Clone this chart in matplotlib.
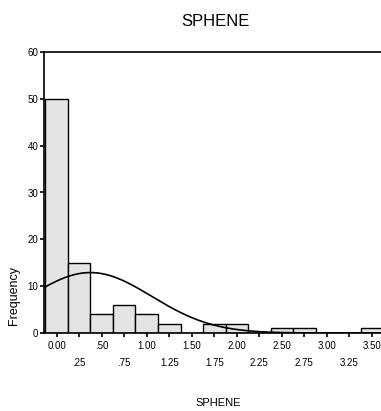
import numpy as np
import matplotlib
matplotlib.use("Agg")
import matplotlib.pyplot as plt

plt.rcParams['font.family'] = ['Liberation Sans Narrow', 'Liberation Sans', 'DejaVu Sans']

# bin centres (width .25) and counts
bin_centers = [0.00, 0.25, 0.50, 0.75, 1.00, 1.25, 1.50, 1.75, 2.00,
               2.25, 2.50, 2.75, 3.00, 3.25, 3.50]
counts = [50, 15, 4, 6, 4, 2, 0, 2, 2, 0, 1, 1, 0, 0, 1]
bin_width = 0.25

row1_ticks = [0.00, 0.50, 1.00, 1.50, 2.00, 2.50, 3.00, 3.50]
row1_labels = ["0.00", ".50", "1.00", "1.50", "2.00", "2.50", "3.00", "3.50"]
row2_ticks = [0.25, 0.75, 1.25, 1.75, 2.25, 2.75, 3.25]
row2_labels = [".25", ".75", "1.25", "1.75", "2.25", "2.75", "3.25"]

fig = plt.figure(figsize=(3.81, 4.11), dpi=100)
ax = fig.add_axes([44/381, 1 - 333/411, 1 - 44/381, (333 - 52)/411])

ax.bar(bin_centers, counts, width=bin_width, color="#e4e4e4",
       edgecolor="black", linewidth=1.0)

# normal curve fitted to the binned data
c = np.array(bin_centers)
n = np.array(counts)
N = n.sum()
mu = (c * n).sum() / N
sd = np.sqrt(((c - mu) ** 2 * n).sum() / (N - 1))
xs = np.linspace(-0.14, 3.6, 300)
ys = N * bin_width / (sd * np.sqrt(2 * np.pi)) * np.exp(-(xs - mu) ** 2 / (2 * sd ** 2))
ax.plot(xs, ys, color="black", linewidth=1.2)

ax.set_xlim(-0.14, 3.6)
ax.set_ylim(0, 60)
ax.spines['right'].set_visible(False)
for s in ['left', 'top', 'bottom']:
    ax.spines[s].set_linewidth(1.2)

ax.set_yticks(range(0, 61, 10))
ax.tick_params(axis='y', length=3, width=1.2, labelsize=7, pad=1)

ax.set_xticks(row1_ticks)
ax.set_xticklabels(row1_labels)
ax.set_xticks(row2_ticks, minor=True)
ax.set_xticklabels(row2_labels, minor=True)
ax.tick_params(axis='x', which='major', length=3, width=1.2, labelsize=7, pad=3)
ax.tick_params(axis='x', which='minor', length=3, width=1.2, labelsize=7, pad=15)

fig.text(215/381, 1 - 22/411, "SPHENE", ha='center', va='center', fontsize=12)
fig.text(218/381, 1 - 403/411, "SPHENE", ha='center', va='center', fontsize=8)
fig.text(14/381, 1 - 295/411, "Frequency", ha='center', va='center',
         rotation=90, fontsize=9)

fig.savefig("out.png", dpi=100)
